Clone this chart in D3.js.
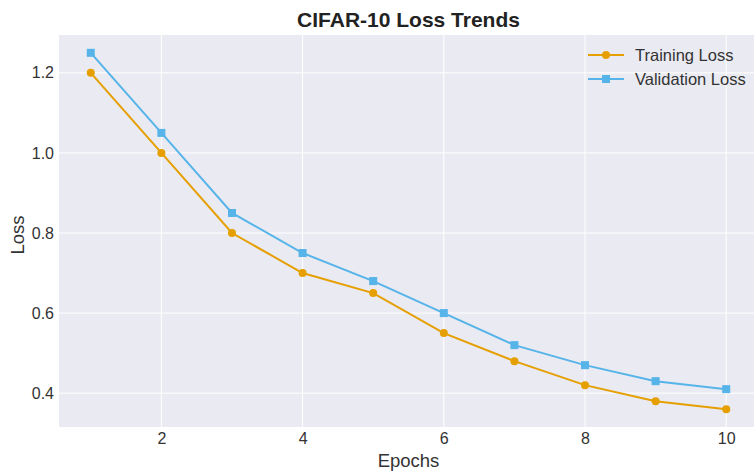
<!DOCTYPE html>
<html><head><meta charset="utf-8">
<script src="https://cdn.jsdelivr.net/npm/d3@7"></script>
<style>body{margin:0;background:#fff;}svg{display:block;font-family:"Liberation Sans",Arial,sans-serif;}</style>
</head><body>
<svg id="c" width="754" height="472"></svg>
<script>
const epochs = [1,2,3,4,5,6,7,8,9,10];
const trainingLoss = [1.20,1.00,0.80,0.70,0.65,0.55,0.48,0.42,0.38,0.36];
const validationLoss = [1.25,1.05,0.85,0.75,0.68,0.60,0.52,0.47,0.43,0.41];
const xTicks = [2,4,6,8,10];
const yTicks = [0.4,0.6,0.8,1.0,1.2];
const seriesNames = ["Training Loss","Validation Loss"];

const svg = d3.select("#c");
const L = 59, T = 35, R = 758, B = 427;
const x = d3.scaleLinear().domain([0.55,10.45]).range([L,R]);
const y = d3.scaleLinear().domain([0.3155,1.2945]).range([B,T]);

svg.append("rect").attr("x",L).attr("y",T).attr("width",R-L).attr("height",B-T).attr("fill","#EAEAF2");
const g = svg.append("g");
g.selectAll(".gx").data(xTicks).enter().append("line")
  .attr("x1",d=>x(d)).attr("x2",d=>x(d)).attr("y1",T).attr("y2",B)
  .attr("stroke","#fff").attr("stroke-width",1);
g.selectAll(".gy").data(yTicks).enter().append("line")
  .attr("y1",d=>y(d)).attr("y2",d=>y(d)).attr("x1",L).attr("x2",R)
  .attr("stroke","#fff").attr("stroke-width",1);

const xAxis = svg.append("g").attr("transform",`translate(0,${B})`)
  .call(d3.axisBottom(x).tickValues(xTicks).tickFormat(d3.format("d")).tickSize(0).tickPadding(6));
const yAxis = svg.append("g").attr("transform",`translate(${L},0)`)
  .call(d3.axisLeft(y).tickValues(yTicks).tickFormat(d3.format(".1f")).tickSize(0).tickPadding(5));
[xAxis,yAxis].forEach(a=>{
  a.select(".domain").remove();
  a.selectAll("text").attr("font-size",16).attr("fill","#333").attr("font-family","Liberation Sans, Arial, sans-serif");
});

const colors = ["#E69F00","#56B4E9"];
const data = [trainingLoss, validationLoss];
const line = d3.line().x((d,i)=>x(epochs[i])).y(d=>y(d));
data.forEach((s,k)=>{
  svg.append("path").datum(s).attr("d",line).attr("fill","none")
    .attr("stroke",colors[k]).attr("stroke-width",2);
  if(k===0){
    svg.selectAll(".m0").data(s).enter().append("circle")
      .attr("cx",(d,i)=>x(epochs[i])).attr("cy",d=>y(d)).attr("r",4).attr("fill",colors[k]);
  } else {
    svg.selectAll(".m1").data(s).enter().append("rect")
      .attr("x",(d,i)=>x(epochs[i])-4).attr("y",d=>y(d)-4).attr("width",8).attr("height",8).attr("fill",colors[k]);
  }
});

// legend
const lg = svg.append("g");
seriesNames.forEach((n,k)=>{
  const yy = 55 + k*24;
  lg.append("line").attr("x1",588).attr("x2",624).attr("y1",yy).attr("y2",yy).attr("stroke",colors[k]).attr("stroke-width",2);
  if(k===0) lg.append("circle").attr("cx",606).attr("cy",yy).attr("r",4).attr("fill",colors[k]);
  else lg.append("rect").attr("x",602).attr("y",yy-4).attr("width",8).attr("height",8).attr("fill",colors[k]);
  lg.append("text").attr("x",635).attr("y",yy+6).attr("font-size",16.5).attr("fill","#333").text(n);
});

svg.append("text").attr("x",(L+R)/2).attr("y",27).attr("text-anchor","middle")
  .attr("font-size",21).attr("font-weight","bold").attr("fill","#222").text("CIFAR-10 Loss Trends");
svg.append("text").attr("x",(L+R)/2).attr("y",467).attr("text-anchor","middle")
  .attr("font-size",18.5).attr("fill","#333").text("Epochs");
svg.append("text").attr("transform",`translate(24,${(T+B)/2+4}) rotate(-90)`).attr("text-anchor","middle")
  .attr("font-size",18.5).attr("fill","#333").text("Loss");
</script>
</body></html>
